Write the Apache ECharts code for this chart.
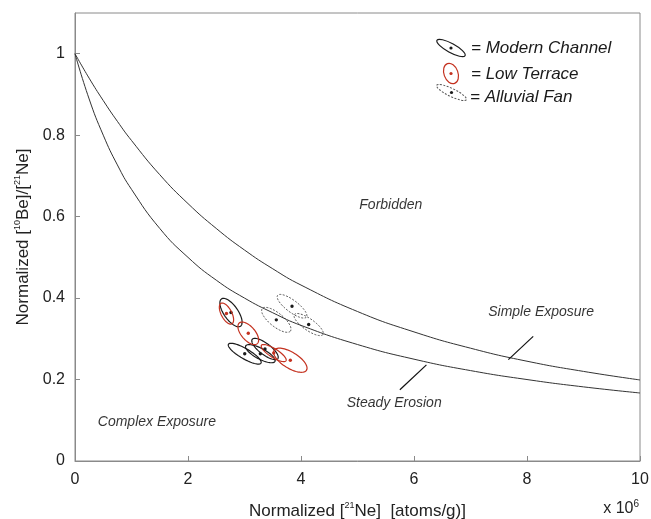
<!DOCTYPE html>
<html>
<head>
<meta charset="utf-8">
<script src="https://cdn.jsdelivr.net/npm/echarts@6/dist/echarts.min.js"></script>
<style>
html,body{margin:0;padding:0;background:#fff;}
#chart{width:651px;height:519px;}
</style>
</head>
<body>
<div id="chart"></div>
<script>
// Theoretical curves (x in units of 10^6 atoms/g)
const curveX = [0, 0.25, 0.5, 0.75, 1, 1.5, 2, 2.5, 3, 3.5, 4, 5, 6, 7, 8, 9, 10];
const simpleExposureY = [1, 0.940, 0.885, 0.834, 0.787, 0.703, 0.632, 0.571, 0.518, 0.472, 0.432, 0.367, 0.317, 0.277, 0.245, 0.220, 0.199];
const steadyErosionY = [1, 0.889, 0.800, 0.727, 0.667, 0.571, 0.500, 0.444, 0.400, 0.364, 0.333, 0.286, 0.250, 0.222, 0.200, 0.182, 0.167];

// Error ellipses: [centerX, centerY, majorHalfAxisX, majorHalfAxisY, minor/major ratio]
const modernChannel = [
  [2.761, 0.3645, 0.1685, -0.0335, 0.42],
  [3.004, 0.2635, 0.288, -0.0232, 0.27],
  [3.280, 0.2635, 0.258, -0.0191, 0.32],
  [3.363, 0.275, 0.2265, -0.0237, 0.35]
];
const lowTerrace = [
  [2.681, 0.362, 0.0965, -0.0252, 0.45],
  [3.067, 0.3135, 0.159, -0.0254, 0.50],
  [3.517, 0.265, 0.2177, -0.019, 0.30],
  [3.811, 0.2475, 0.2867, -0.0245, 0.42]
];
const alluvialFan = [
  [3.841, 0.380, 0.2549, -0.0266, 0.33],
  [3.563, 0.3466, 0.2487, -0.0277, 0.38],
  [4.136, 0.335, 0.2522, -0.0246, 0.33]
];

// Annotations
const annoText = ['Forbidden', 'Simple Exposure', 'Steady Erosion', 'Complex Exposure'];
const annoX = [5.59, 8.25, 5.65, 1.45];
const annoY = [0.628, 0.365, 0.143, 0.096];
const leaderSimple = [[8.11, 0.306], [7.67, 0.249]];
const leaderSteady = [[6.22, 0.236], [5.75, 0.175]];

// Axis ticks
const xTicks = [0, 2, 4, 6, 8, 10];
const yTicks = [0, 0.2, 0.4, 0.6, 0.8, 1];

const legendNames = ['= Modern Channel', '= Low Terrace', '= Alluvial Fan'];

const FONT = '"Liberation Sans", Arial, sans-serif';
const RED = '#c4311f';
const BLACK = '#1a1a1a';
const GREY = '#333';
const AXIS = '#8a8a8a';

function ellipseRenderer(color, dash, dotColor, width) {
  return function (params, api) {
    const cx = api.value(0), cy = api.value(1), ux = api.value(2), uy = api.value(3), r = api.value(4);
    const c = api.coord([cx, cy]);
    const e = api.coord([cx + ux, cy + uy]);
    const vx = e[0] - c[0], vy = e[1] - c[1];
    const nx = -vy * r, ny = vx * r;
    const pts = [];
    for (let i = 0; i <= 72; i++) {
      const t = i / 72 * 2 * Math.PI;
      pts.push([c[0] + vx * Math.cos(t) + nx * Math.sin(t), c[1] + vy * Math.cos(t) + ny * Math.sin(t)]);
    }
    return {
      type: 'group',
      children: [
        { type: 'polyline', shape: { points: pts }, style: { fill: 'none', stroke: color, lineWidth: width, lineDash: dash } },
        { type: 'circle', shape: { cx: c[0], cy: c[1], r: 1.7 }, style: { fill: dotColor } }
      ]
    };
  };
}

const chart = echarts.init(document.getElementById('chart'), null, { renderer: 'canvas' });

const richAxis = {
  a: { fontSize: 17, fontFamily: FONT, color: '#222', lineHeight: 20 },
  s: { fontSize: 9, fontFamily: FONT, color: '#222', verticalAlign: 'top', lineHeight: 20, padding: [0, 0, 8, 0] }
};

const option = {
  animation: false,
  backgroundColor: '#fff',
  grid: { left: 75, right: 11, top: 13, bottom: 58, show: true, borderColor: AXIS, borderWidth: 1, outerBoundsMode: 'none', containLabel: false },
  xAxis: {
    type: 'value', min: xTicks[0], max: xTicks[xTicks.length - 1], interval: 2,
    axisLine: { lineStyle: { color: AXIS } },
    axisTick: { inside: true, length: 5, lineStyle: { color: AXIS } },
    splitLine: { show: false },
    axisLabel: { color: '#222', fontSize: 16, fontFamily: FONT, margin: 11 },
    name: '{a|Normalized [}{s|21}{a|Ne]  [atoms/g)]}',
    nameLocation: 'middle', nameGap: 40,
    nameTextStyle: { rich: richAxis }
  },
  yAxis: {
    type: 'value', min: 0, max: 1.1, interval: 0.2,
    axisLine: { lineStyle: { color: AXIS } },
    axisTick: { inside: true, length: 5, lineStyle: { color: AXIS } },
    splitLine: { show: false },
    axisLabel: { color: '#222', fontSize: 16, fontFamily: FONT, margin: 10, showMaxLabel: false,
      formatter: function (v) { return yTicks.some(t => Math.abs(t - v) < 1e-6) ? String(+v.toFixed(1)) : ''; } },
    name: '{a|Normalized [}{s|10}{a|Be]/[}{s|21}{a|Ne]}',
    nameLocation: 'middle', nameRotate: 90, nameGap: 40,
    nameTextStyle: { rich: richAxis }
  },
  series: [
    {
      type: 'line', smooth: true, showSymbol: false, silent: true,
      lineStyle: { color: GREY, width: 1 },
      data: curveX.map((x, i) => [x, simpleExposureY[i]])
    },
    {
      type: 'line', smooth: true, showSymbol: false, silent: true,
      lineStyle: { color: GREY, width: 1 },
      data: curveX.map((x, i) => [x, steadyErosionY[i]])
    },
    {
      type: 'custom', renderItem: ellipseRenderer(BLACK, null, BLACK, 1.2),
      data: modernChannel, encode: { x: 0, y: 1 }, silent: true
    },
    {
      type: 'custom', renderItem: ellipseRenderer(RED, null, RED, 1.2),
      data: lowTerrace, encode: { x: 0, y: 1 }, silent: true
    },
    {
      type: 'custom', renderItem: ellipseRenderer('#555', [2, 1.5], BLACK, 1),
      data: alluvialFan, encode: { x: 0, y: 1 }, silent: true
    },
    {
      type: 'scatter', symbolSize: 1, silent: true,
      itemStyle: { color: 'transparent' },
      label: {
        show: true, position: 'inside', color: '#000', fontSize: 14, fontStyle: 'italic', fontFamily: FONT,
        formatter: function (p) { return annoText[p.dataIndex]; }
      },
      data: annoX.map((x, i) => [x, annoY[i]]),
      markLine: {
        silent: true, symbol: ['none', 'none'], label: { show: false },
        lineStyle: { color: '#111', type: 'solid', width: 1.2 },
        data: [
          [{ coord: leaderSimple[0] }, { coord: leaderSimple[1] }],
          [{ coord: leaderSteady[0] }, { coord: leaderSteady[1] }]
        ]
      }
    }
  ],
  graphic: [
    { type: 'ellipse', x: 451, y: 48, rotation: -0.5, shape: { cx: 0, cy: 0, rx: 16, ry: 4.5 }, style: { fill: 'none', stroke: BLACK, lineWidth: 1.2 } },
    { type: 'circle', x: 451, y: 48, shape: { cx: 0, cy: 0, r: 1.6 }, style: { fill: BLACK } },
    { type: 'ellipse', x: 451, y: 73.5, rotation: 0.35, shape: { cx: 0, cy: 0, rx: 7, ry: 10.5 }, style: { fill: 'none', stroke: RED, lineWidth: 1.2 } },
    { type: 'circle', x: 451, y: 73.5, shape: { cx: 0, cy: 0, r: 1.6 }, style: { fill: RED } },
    { type: 'ellipse', x: 451.5, y: 92.5, rotation: -0.45, shape: { cx: 0, cy: 0, rx: 16.5, ry: 4 }, style: { fill: 'none', stroke: '#555', lineWidth: 1, lineDash: [2, 1.5] } },
    { type: 'circle', x: 451.5, y: 92.5, shape: { cx: 0, cy: 0, r: 1.6 }, style: { fill: BLACK } },
    { type: 'text', x: 471, y: 48, style: { text: legendNames[0], fill: '#1a1a1a', font: 'italic 17px ' + FONT, textVerticalAlign: 'middle', verticalAlign: 'middle' } },
    { type: 'text', x: 471, y: 74, style: { text: legendNames[1], fill: '#1a1a1a', font: 'italic 17px ' + FONT, textVerticalAlign: 'middle', verticalAlign: 'middle' } },
    { type: 'text', x: 470, y: 97, style: { text: legendNames[2], fill: '#1a1a1a', font: 'italic 17px ' + FONT, textVerticalAlign: 'middle', verticalAlign: 'middle' } },
    { type: 'text', right: 12, top: 499, style: {
        text: '{a|x 10}{s|6}', fill: '#222',
        rich: {
          a: { fontSize: 16, fontFamily: FONT, fill: '#222', lineHeight: 20 },
          s: { fontSize: 10, fontFamily: FONT, fill: '#222', verticalAlign: 'top', lineHeight: 20, padding: [0, 0, 9, 0] }
        }
      } }
  ]
};

chart.setOption(option);
</script>
</body>
</html>
